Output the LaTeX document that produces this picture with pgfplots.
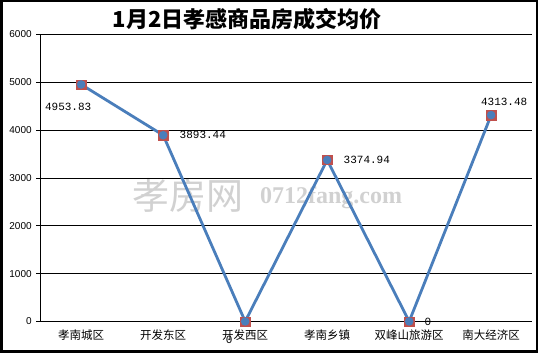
\documentclass[border=0pt]{standalone}
\usepackage{pgfplots}
\pgfplotsset{compat=1.18}
\usepackage{fontspec}
\setmainfont{Liberation Sans}
\newfontfamily\cjk{Noto Sans CJK SC}
\newfontfamily\mono{Liberation Mono}
\newfontfamily\wserif{Liberation Serif}
\definecolor{lineblue}{HTML}{4A7EBB}
\definecolor{mkred}{HTML}{C0504D}
\pgfplotstableread{
x y
0 4953.83
1 3893.44
2 0
3 3374.94
4 0
5 4313.48
}\datatable
\begin{document}
\begin{tikzpicture}[x=1pt,y=1pt]
\path[use as bounding box] (0,0) rectangle (538,353);
\draw[line width=2.5pt] (1.25,1.25) rectangle (536.75,351.75);
\node[font=\cjk\bfseries\fontsize{22}{24}\selectfont] at (247,334) {1月2日孝感商品房成交均价};
\node[font=\cjk\fontsize{37}{40}\selectfont, text=black!18] at (188,158) {孝房网};
\node[font=\wserif\bfseries\fontsize{24}{26}\selectfont, text=black!18] at (331,155) {0712fang.com};
\begin{axis}[at={(49,66)}, anchor=south west, scale only axis,
  width=492pt, height=287pt,
  xmin=-0.5, xmax=5.5, ymin=0, ymax=6000,
  axis x line*=bottom, axis y line*=left, axis line style={-, black, line width=0.9pt},
  ytick={0,1000,...,6000}, ymajorgrids, grid style={black, line width=0.8pt},
  tick align=outside, major tick length=4pt,
  tick style={black, line width=0.8pt},
  scaled y ticks=false,
  yticklabel style={font=\fontsize{10}{12}\selectfont, xshift=-1pt},
  /pgf/number format/assume math mode=true,
  /pgf/number format/set thousands separator={},
  xtick={0,...,5},
  xticklabels={孝南城区,开发东区,开发西区,孝南乡镇,双峰山旅游区,南大经济区},
  xticklabel style={font=\cjk\fontsize{11.5}{13}\selectfont, yshift=-1pt},
  major x tick style={draw=none},
  extra x ticks={-0.5,0.5,1.5,2.5,3.5,4.5,5.5},
  extra x tick labels={},
  extra x tick style={major x tick style={black, line width=0.8pt}, xmajorgrids=false},
  clip=false,
]
\addplot[only marks, mark=square*, mark size=4.7pt, mark options={fill=mkred, draw=mkred}] table[x=x,y=y] {\datatable};
\addplot[lineblue, line width=2.8pt, mark=*, mark size=2.8pt, mark options={fill=lineblue, draw=lineblue}] table[x=x,y=y] {\datatable};
\node[font=\mono\fontsize{11}{12}\selectfont] at (axis cs:0,4953.83) [xshift=-13pt, yshift=-22pt] {4953.83};
\node[font=\mono\fontsize{11}{12}\selectfont, anchor=west] at (axis cs:1,3893.44) [xshift=13pt] {3893.44};
\node[font=\mono\fontsize{11}{12}\selectfont] at (axis cs:2,0) [xshift=-16pt, yshift=-18pt] {0};
\node[font=\mono\fontsize{11}{12}\selectfont, anchor=west] at (axis cs:3,3374.94) [xshift=13pt] {3374.94};
\node[font=\mono\fontsize{11}{12}\selectfont, anchor=west] at (axis cs:4,0) [xshift=12pt] {0};
\node[font=\mono\fontsize{11}{12}\selectfont] at (axis cs:5,4313.48) [xshift=13pt, yshift=13pt] {4313.48};
\end{axis}
\end{tikzpicture}
\end{document}
